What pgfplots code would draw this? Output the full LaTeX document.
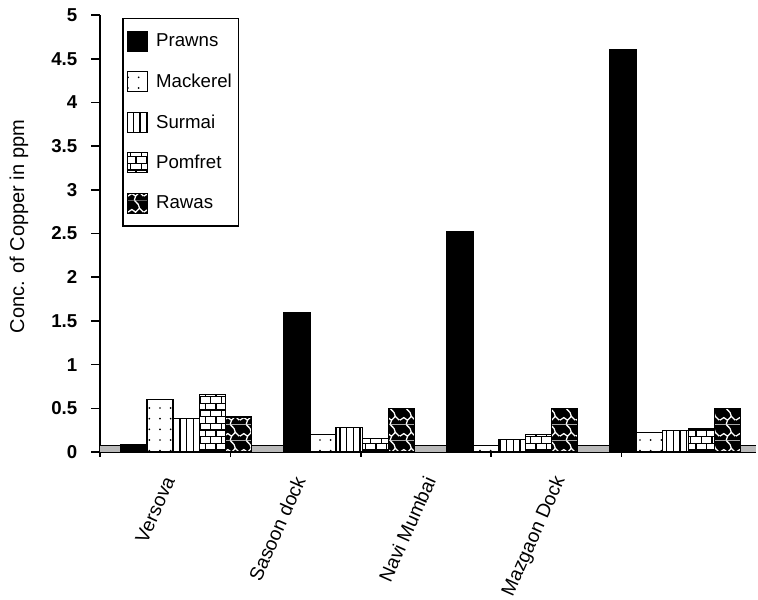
\documentclass[border=0pt]{standalone}
\usepackage{pgfplots}
\usepackage{pgfplotstable}
\pgfplotsset{compat=1.18}
\usepackage{fontspec}
\setmainfont{Liberation Sans}
\usetikzlibrary{patterns,patterns.meta}

% brick fill for Pomfret
\pgfdeclarepatternformonly{pomfret bricks}{\pgfqpoint{-1pt}{-1pt}}{\pgfqpoint{9pt}{11pt}}{\pgfqpoint{8pt}{10pt}}{%
  \pgfsetlinewidth{1.2pt}%
  \pgfpathmoveto{\pgfqpoint{0pt}{2.5pt}}\pgfpathlineto{\pgfqpoint{8pt}{2.5pt}}%
  \pgfpathmoveto{\pgfqpoint{0pt}{7.5pt}}\pgfpathlineto{\pgfqpoint{8pt}{7.5pt}}%
  \pgfpathmoveto{\pgfqpoint{2pt}{2.5pt}}\pgfpathlineto{\pgfqpoint{2pt}{7.5pt}}%
  \pgfpathmoveto{\pgfqpoint{6pt}{7.5pt}}\pgfpathlineto{\pgfqpoint{6pt}{10pt}}%
  \pgfpathmoveto{\pgfqpoint{6pt}{0pt}}\pgfpathlineto{\pgfqpoint{6pt}{2.5pt}}%
  \pgfusepath{stroke}}

% black fill with white cracks for Rawas
\pgfdeclarepatterninherentlycolored{rawas cracks}{\pgfqpoint{0pt}{0pt}}{\pgfqpoint{12pt}{12pt}}{\pgfqpoint{12pt}{12pt}}{%
  \pgfsetfillcolor{black}%
  \pgfpathrectangle{\pgfqpoint{0pt}{0pt}}{\pgfqpoint{12pt}{12pt}}\pgfusepath{fill}%
  \pgfsetstrokecolor{white}\pgfsetlinewidth{1pt}%
  \pgfpathmoveto{\pgfqpoint{0pt}{3pt}}\pgfpathlineto{\pgfqpoint{3pt}{5pt}}%
  \pgfpathlineto{\pgfqpoint{6pt}{3pt}}\pgfpathlineto{\pgfqpoint{9pt}{6pt}}%
  \pgfpathlineto{\pgfqpoint{12pt}{3pt}}%
  \pgfpathmoveto{\pgfqpoint{5pt}{0pt}}\pgfpathlineto{\pgfqpoint{6pt}{3pt}}%
  \pgfpathmoveto{\pgfqpoint{9pt}{6pt}}\pgfpathlineto{\pgfqpoint{8pt}{9pt}}%
  \pgfpathlineto{\pgfqpoint{5pt}{12pt}}%
  \pgfusepath{stroke}}

% copper concentration (ppm) per site; x = bar group position
\pgfplotstableread{
x      prawns mackerel surmai pomfret rawas
0.66   0.08   0.60     0.38   0.66    0.40
1.91   1.60   0.20     0.28   0.15    0.50
3.16   2.52   0.07     0.14   0.20    0.50
4.41   4.60   0.22     0.25   0.27    0.50
}\copper

\pgfplotsset{
  legsq/.style={legend image code/.code={%
    \draw[##1,line width=0.9pt] (0pt,-7.5pt) rectangle (15pt,7.5pt);}},
}

\begin{document}
\begin{tikzpicture}
\useasboundingbox (-75pt,-111pt) rectangle (493.5pt,339pt);
\begin{axis}[
  at={(0pt,0pt)}, anchor=south west,
  scale only axis,
  width=492pt, height=327.75pt,
  xmin=0, xmax=5.03, ymin=0, ymax=5,
  axis x line*=bottom, axis y line*=left,
  axis line style={line width=1.3pt},
  tick align=outside,
  major tick length=6.5pt,
  minor tick length=3.4pt,
  tick style={line width=1.2pt,black},
  ytick={0,0.5,...,5},
  /pgf/number format/assume math mode=true,
  yticklabel style={font=\bfseries\fontsize{14}{16}\selectfont,/pgf/number format/fixed,xshift=-7pt},
  xtick={0.5,1.5,2.5,3.5},
  xticklabels={Versova,Sasoon dock,Navi Mumbai,Mazgaon Dock},
  major x tick style={draw=none},
  minor xtick={0,1,2,3,4},
  minor x tick style={draw=black,line width=1.2pt},
  xticklabel style={xshift=4.5pt, yshift=-9.5pt, rotate=66, anchor=east, font=\fontsize{14.5}{16}\selectfont},
  ylabel={Conc. of Copper in ppm},
  ylabel style={at={(axis description cs:-0.1235,0.516)}, anchor=center, font=\fontsize{15}{17}\selectfont},
  ybar=0pt, bar width=0.2,
  legend style={at={(0.034,0.993)}, anchor=north west, draw=black, line width=0.9pt,
    font=\fontsize{14}{16}\selectfont, row sep=14.5pt, inner ysep=9pt},
  legend cell align=left,
]
% floor strip under the bars
\fill[gray!55] (axis cs:0,0) rectangle (axis cs:5.03,0.075);
\draw[line width=0.6pt] (axis cs:0,0.075) -- (axis cs:5.03,0.075);

\addplot[legsq, draw=black, line width=0.9pt, fill=black] table[x=x,y=prawns] {\copper};
\addplot[legsq, draw=black, line width=0.9pt, fill=white,
  postaction={pattern={Dots[distance=8pt,radius=0.7pt]}}] table[x=x,y=mackerel] {\copper};
\addplot[legsq, draw=black, line width=0.9pt, fill=white,
  postaction={pattern={Lines[angle=90,distance=5pt,line width=1.2pt]}}] table[x=x,y=surmai] {\copper};
\addplot[legsq, draw=black, line width=0.9pt, fill=white,
  postaction={pattern=pomfret bricks}] table[x=x,y=pomfret] {\copper};
\addplot[legsq, draw=black, line width=0.9pt, pattern=rawas cracks] table[x=x,y=rawas] {\copper};
\legend{\hspace{4pt}Prawns,\hspace{4pt}Mackerel\hspace{4pt},\hspace{4pt}Surmai,\hspace{4pt}Pomfret,\hspace{4pt}Rawas}
\end{axis}
\end{tikzpicture}
\end{document}
